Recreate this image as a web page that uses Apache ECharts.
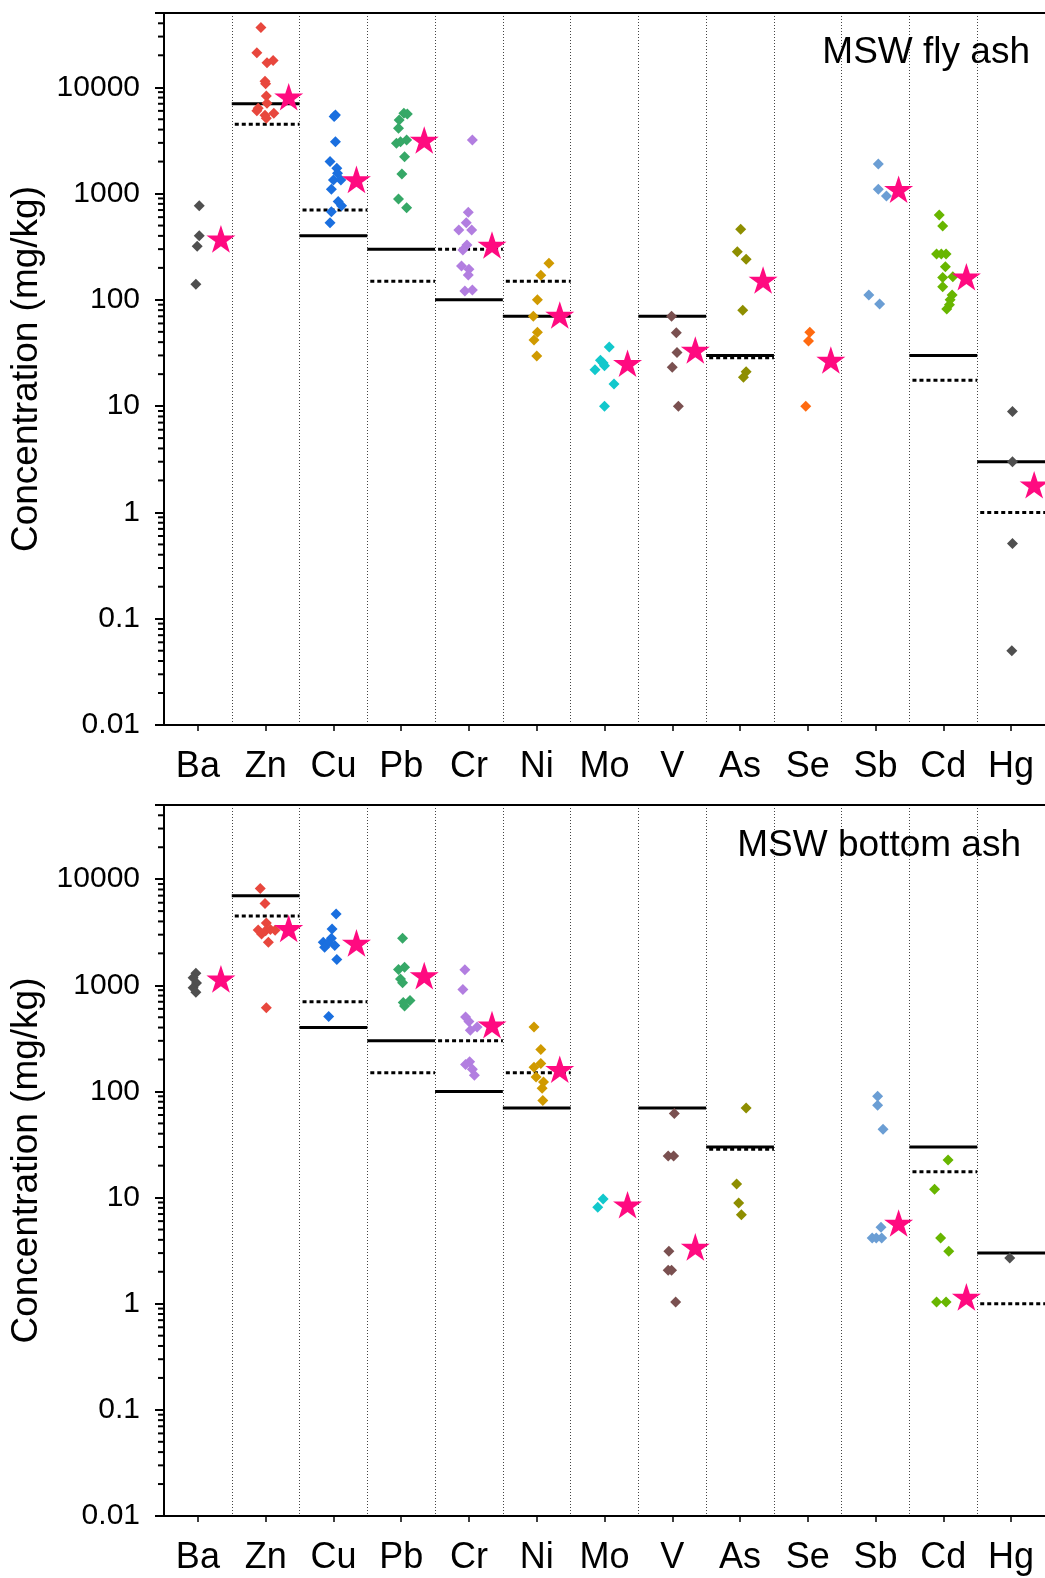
<!DOCTYPE html>
<html>
<head>
<meta charset="utf-8">
<script src="https://cdn.jsdelivr.net/npm/echarts@6/dist/echarts.min.js"></script>
<style>
  html, body { margin: 0; padding: 0; background: #fff; }
  #chart { width: 1045px; height: 1578px; }
</style>
</head>
<body>
<div id="chart"></div>
<script>
const elements = ["Ba", "Zn", "Cu", "Pb", "Cr", "Ni", "Mo", "V", "As", "Se", "Sb", "Cd", "Hg"];
const colors = ["#4f4f4f", "#e8473d", "#1a6fdf", "#36a867", "#b27ee0", "#d09a00", "#12c8cc",
  "#7a5050", "#8e8e00", "#ff6a10", "#6b9ed4", "#68b600", "#4f4f4f"];

// limit values, same in both panels (null = no line)
const solidLimit = [null, 7000, 400, 300, 100, 70, null, 70, 30, null, null, 30, 3];
const dottedLimit = [null, 4500, 700, 150, 300, 150, null, null, 28.5, null, null, 17.5, 1];

// [x jitter within category, concentration]
const flyPoints = [
  [[0.02, 770], [0.02, 400], [-0.01, 320], [-0.03, 140]],
  [[-0.07, 36600], [-0.13, 21100], [0.02, 17000], [0.11, 17900], [-0.01, 11400], [0.0, 10800], [0.01, 8280],
   [0.02, 7070], [-0.13, 6030], [-0.11, 6340], [-0.01, 5460], [0.01, 5100], [0.12, 5690]],
  [[0.03, 5500], [0.01, 5300], [0.03, 3080], [-0.05, 2000], [0.05, 1730], [0.06, 1550], [0.0, 1340],
   [0.11, 1340], [-0.03, 1100], [0.07, 840], [0.12, 770], [-0.03, 676], [-0.05, 532]],
  [[0.04, 5700], [0.09, 5600], [-0.03, 4920], [-0.04, 4110], [-0.07, 2970], [-0.01, 3080], [0.08, 3190],
   [0.05, 2220], [0.01, 1530], [-0.04, 890], [0.08, 737]],
  [[0.05, 3200], [-0.01, 667], [-0.04, 532], [0.04, 455], [-0.15, 455], [-0.03, 328], [-0.09, 294],
   [-0.11, 208], [0.0, 194], [-0.01, 171], [-0.06, 121], [0.05, 124]],
  [[0.18, 221], [0.06, 170], [0.01, 100], [-0.05, 70], [0.01, 49.5], [-0.04, 42], [0.0, 29.7]],
  [[0.07, 36], [-0.06, 27], [-0.02, 25.5], [0.0, 24], [-0.14, 22], [0.14, 16.2], [0.0, 10]],
  [[-0.01, 70], [0.06, 49], [0.07, 32], [0.0, 23.2], [0.09, 10]],
  [[0.01, 461], [-0.04, 284], [0.09, 241], [0.04, 80], [0.09, 21.1], [0.05, 18.7]],
  [[0.03, 49.5], [0.01, 41], [-0.03, 10]],
  [[0.04, 1900], [0.04, 1100], [0.16, 948], [-0.10, 111], [0.06, 91.5]],
  [[-0.06, 630], [-0.01, 496], [-0.10, 270], [-0.03, 270], [0.04, 270], [0.03, 205], [-0.01, 162],
   [0.14, 165], [-0.01, 133], [0.13, 111], [0.10, 100], [0.09, 90], [0.05, 82]],
  [[0.02, 8.9], [0.02, 3.0], [0.02, 0.51], [0.01, 0.05]]
];

const bottomPoints = [
  [[-0.03, 1300], [-0.07, 1180], [-0.02, 1050], [-0.07, 950], [-0.03, 860]],
  [[-0.08, 8180], [-0.01, 5910], [0.01, 3870], [-0.11, 3320], [0.0, 3270], [0.07, 3350], [0.14, 3300],
   [-0.06, 3050], [0.04, 2550], [0.01, 615]],
  [[0.04, 4690], [-0.02, 3400], [-0.03, 2770], [-0.15, 2540], [-0.08, 2500], [0.02, 2370], [-0.13, 2290],
   [0.05, 1750], [-0.07, 509]],
  [[0.02, 2770], [0.05, 1480], [-0.04, 1410], [-0.01, 1150], [0.02, 1055], [0.13, 720], [0.03, 690], [0.05, 640]],
  [[-0.06, 1400], [-0.09, 914], [-0.05, 502], [0.0, 457], [0.02, 377], [0.12, 405], [0.01, 190],
   [-0.05, 179], [0.05, 162], [0.08, 142]],
  [[-0.04, 405], [0.06, 248], [0.06, 183], [-0.04, 169], [-0.01, 137], [0.10, 123], [0.08, 107], [0.09, 82]],
  [[-0.02, 9.7], [-0.10, 8.1]],
  [[0.03, 62], [-0.06, 24.6], [0.02, 24.7], [-0.05, 3.13], [-0.06, 2.07], [-0.01, 2.07], [0.05, 1.04]],
  [[0.09, 70], [-0.05, 13.4], [-0.02, 8.87], [0.02, 6.9]],
  [],
  [[0.03, 90], [0.03, 74], [0.11, 44], [0.08, 5.25], [-0.05, 4.17], [0.01, 4.17], [0.09, 4.17]],
  [[0.07, 22.6], [-0.13, 12], [-0.04, 4.17], [0.08, 3.13], [-0.10, 1.04], [0.04, 1.04]],
  [[-0.02, 2.7]]
];

const flyStars = [375, 8160, 1360, 3190, 328, 72, 25.3, 33.8, 154, 27.2, 1100, 165, 1.82];
const bottomStars = [1150, 3440, 2510, 1235, 426, 162, 8.55, 3.43, null, null, 5.77, 1.16, null];

const panelTitles = ["MSW fly ash", "MSW bottom ash"];
const majorTicks = [0.01, 0.1, 1, 10, 100, 1000, 10000];
const minorMult = [2, 3, 4, 5, 6, 7, 8, 9];

const FONT = "Liberation Sans, Arial, Helvetica, sans-serif";
const STAR = "path://M50,0 L61.23,34.55 L97.55,34.55 L68.17,55.9 L79.39,90.45 L50,69.1 L20.61,90.45 L31.83,55.9 L2.45,34.55 L38.77,34.55 Z";
const starOffset = 0.34;

const grids = [
  { left: 164, right: 0, top: 13, height: 712 },
  { left: 164, right: 0, top: 805, height: 711 }
];

const minorTicks = [];
majorTicks.forEach(d => minorMult.forEach(m => {
  const v = +(d * m).toPrecision(3);
  if (v < 50000) minorTicks.push(v);
}));

const xAxes = [], yAxes = [], series = [];

[flyPoints, bottomPoints].forEach((points, p) => {
  const stars = p === 0 ? flyStars : bottomStars;
  xAxes.push({
    type: "category", gridIndex: p, data: elements, position: "bottom", boundaryGap: true,
    axisLine: { onZero: false, lineStyle: { color: "#000", width: 2 } },
    axisTick: { show: true, alignWithLabel: true, length: 6, lineStyle: { color: "#000", width: 1.5 } },
    axisLabel: { color: "#000", fontSize: 36, fontFamily: FONT, margin: 24, interval: 0 },
    splitLine: { show: true, interval: 0, lineStyle: { color: "#444", width: 1, type: [1, 2] } }
  });
  xAxes.push({
    type: "value", gridIndex: p, min: -0.5, max: 12.5, position: "top",
    axisLine: { show: true, onZero: false, lineStyle: { color: "#000", width: 2 } },
    axisTick: { show: false }, axisLabel: { show: false }, splitLine: { show: false }
  });
  yAxes.push({
    type: "log", logBase: 10, gridIndex: p, min: 0.01, max: 50000,
    axisLine: { show: true, onZero: false, lineStyle: { color: "#000", width: 2 } },
    axisTick: { show: true, length: 9, lineStyle: { color: "#000", width: 2 } },
    axisLabel: {
      color: "#000", fontSize: 30, fontFamily: FONT, margin: 24,
      formatter: v => {
        const lg = Math.log10(v);
        return Math.abs(lg - Math.round(lg)) < 1e-6 ? String(+v.toPrecision(3)) : "";
      }
    },
    splitLine: { show: false },
    name: "Concentration (mg/kg)", nameLocation: "middle", nameGap: 107,
    nameTextStyle: { color: "#000", fontSize: 37, fontFamily: FONT }
  });

  const xi = 2 * p + 1;
  const lineData = [];
  elements.forEach((e, i) => {
    if (solidLimit[i] != null) lineData.push([i, solidLimit[i], 0]);
    if (dottedLimit[i] != null) lineData.push([i, dottedLimit[i], 1]);
  });
  series.push({
    type: "custom", xAxisIndex: xi, yAxisIndex: p, z: 2, silent: true,
    data: lineData,
    renderItem: (params, api) => {
      const i = api.value(0), v = api.value(1), k = api.value(2);
      const a = api.coord([i - 0.5, v]), b = api.coord([i + 0.5, v]);
      return {
        type: "line",
        shape: { x1: a[0] + (k ? 3 : 0), y1: a[1], x2: b[0], y2: b[1] },
        style: { stroke: "#000", lineWidth: 3, lineDash: k ? [4, 3] : null }
      };
    }
  });

  const diamonds = [];
  points.forEach((list, i) => list.forEach(pt => {
    diamonds.push({ value: [i + pt[0], pt[1]], itemStyle: { color: colors[i], opacity: 1 } });
  }));
  series.push({
    type: "scatter", xAxisIndex: xi, yAxisIndex: p, z: 3, symbol: "diamond", symbolSize: 11,
    itemStyle: { opacity: 1 },
    data: diamonds
  });

  series.push({
    type: "scatter", xAxisIndex: xi, yAxisIndex: p, z: 4, symbol: STAR, symbolSize: 29,
    symbolKeepAspect: true, itemStyle: { color: "#ff0a80", opacity: 1 },
    data: stars.map((v, i) => v == null ? null : [i + starOffset, v]).filter(d => d)
  });

  // log minor ticks on the y axis
  series.push({
    type: "custom", xAxisIndex: xi, yAxisIndex: p, z: 5, silent: true, clip: false,
    data: minorTicks.map(v => [-0.5, v]),
    renderItem: (params, api) => {
      const c = api.coord([api.value(0), api.value(1)]);
      return {
        type: "line",
        shape: { x1: c[0] - 6, y1: c[1], x2: c[0] - 1, y2: c[1] },
        style: { stroke: "#000", lineWidth: 2 }
      };
    }
  });
});

const chart = echarts.init(document.getElementById("chart"), null, { renderer: "canvas" });
chart.setOption({
  backgroundColor: "#fff",
  animation: false,
  title: [
    { text: panelTitles[0], right: 10, top: 29, textStyle: { fontSize: 37, fontWeight: "normal", color: "#000", fontFamily: FONT } },
    { text: panelTitles[1], right: 19, top: 822, textStyle: { fontSize: 37, fontWeight: "normal", color: "#000", fontFamily: FONT } }
  ],
  grid: grids.map(g => Object.assign({ containLabel: false, outerBoundsMode: "none" }, g)),
  xAxis: xAxes,
  yAxis: yAxes,
  series: series
});
</script>
</body>
</html>
